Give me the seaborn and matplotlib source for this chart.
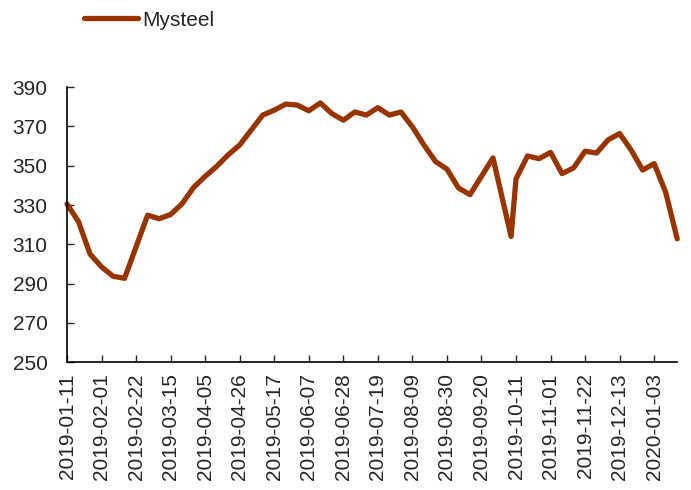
import pandas as pd
import matplotlib
matplotlib.use("Agg")
import matplotlib.pyplot as plt
import matplotlib.dates as mdates
import seaborn as sns

sns.set_style("ticks")
plt.rcParams["font.family"] = ["Liberation Sans", "DejaVu Sans"]

# weekly price readings
dates = [
    "2019-01-11", "2019-01-18", "2019-01-25", "2019-02-01", "2019-02-08", "2019-02-15",
    "2019-03-01", "2019-03-08", "2019-03-15", "2019-03-22", "2019-03-29", "2019-04-05",
    "2019-04-12", "2019-04-19", "2019-04-26", "2019-05-03", "2019-05-10", "2019-05-17",
    "2019-05-24", "2019-05-31", "2019-06-07", "2019-06-14", "2019-06-21", "2019-06-28",
    "2019-07-05", "2019-07-12", "2019-07-19", "2019-07-26", "2019-08-02", "2019-08-09",
    "2019-08-16", "2019-08-23", "2019-08-30", "2019-09-06", "2019-09-13", "2019-09-20",
    "2019-09-27", "2019-10-08", "2019-10-11", "2019-10-18", "2019-10-25", "2019-11-01",
    "2019-11-08", "2019-11-15", "2019-11-22", "2019-11-29", "2019-12-06", "2019-12-13",
    "2019-12-20", "2019-12-27", "2020-01-03", "2020-01-10", "2020-01-17",
]
mysteel = [
    330.5, 321.5, 305.0, 298.5, 293.7, 292.7,
    324.8, 323.0, 325.2, 330.7, 339.0, 344.6,
    349.7, 355.6, 360.6, 368.2, 375.8, 378.3,
    381.4, 380.9, 378.0, 382.0, 376.6, 373.2,
    377.4, 375.8, 379.6, 375.8, 377.4, 369.8,
    360.6, 352.2, 348.3, 338.7, 335.3, 344.6,
    354.0, 314.0, 343.3, 355.0, 353.6, 356.8,
    346.0, 348.9, 357.4, 356.5, 363.2, 366.4,
    358.0, 347.8, 351.1, 336.5, 312.8,
]
y_ticks = [250, 270, 290, 310, 330, 350, 370, 390]

df = pd.DataFrame({"date": pd.to_datetime(dates), "Mysteel": mysteel})

fig = plt.figure(figsize=(6.91, 4.90), dpi=100)
ax = fig.add_axes([0.097, 0.261, 0.883, 0.561])

sns.lineplot(data=df, x="date", y="Mysteel", ax=ax, color="#993300",
             linewidth=3.8, label="Mysteel", legend=False, clip_on=False,
             solid_joinstyle="round", solid_capstyle="round")

ax.set_xlim(df["date"].min(), df["date"].max())
ax.set_ylim(250, 390)
ax.set_yticks(y_ticks)
tick_dates = pd.date_range("2019-01-11", "2020-01-03", freq="21D")
ax.set_xticks(tick_dates)
ax.xaxis.set_major_formatter(mdates.DateFormatter("%Y-%m-%d"))
ax.tick_params(axis="x", direction="in", length=5, width=1, rotation=90,
               labelsize=15, pad=8)
ax.tick_params(axis="y", direction="in", length=5, width=1, labelsize=15, pad=14)
ax.set_xlabel("")
ax.set_ylabel("")
sns.despine(ax=ax)
for side in ["left", "bottom"]:
    ax.spines[side].set_linewidth(1.2)
    ax.spines[side].set_color("black")

fig.legend(loc="upper left", bbox_to_anchor=(0.121, 0.978), frameon=False,
           fontsize=15, handlelength=2.6, handletextpad=0.2,
           borderpad=0, borderaxespad=0)

fig.savefig("out.png", dpi=100)
plt.close(fig)
